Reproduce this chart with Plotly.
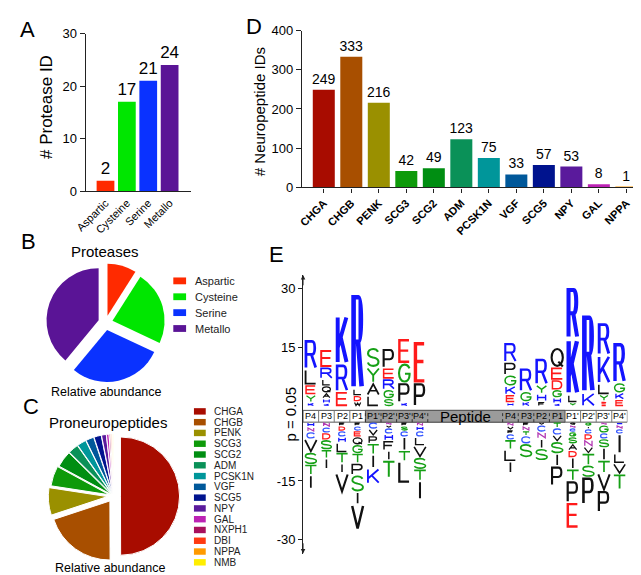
import re
import plotly.graph_objects as go

W, H = 641, 575
FONT = "Arial, Liberation Sans, sans-serif"

# ---------------- data ----------------
# A: protease IDs
protease_classes = ["Aspartic", "Cysteine", "Serine", "Metallo"]
protease_counts = [2, 17, 21, 24]
protease_colors = ["#FF2A00", "#00E600", "#0A32FF", "#5A1496"]

# B: protease relative abundance (%)
protease_abundance = [9, 23, 29, 39]

# C: proneuropeptide relative abundance (%)
propeptide_names = ["CHGA", "CHGB", "PENK", "SCG3", "SCG2", "ADM", "PCSK1N", "VGF",
                    "SCG5", "NPY", "GAL", "NXPH1", "DBI", "NPPA", "NMB"]
propeptide_abundance = [50, 20, 7.5, 5.5, 4.5, 2.8, 2.5, 2.2, 2.0, 1.3, 0.7, 0.4, 0.3, 0.2, 0.2]
propeptide_colors = ["#A80C00", "#A84F00", "#9A9000", "#0E9A0A", "#008E12", "#0A9158",
                     "#00969A", "#00589A", "#00138E", "#5A1A9C", "#BC22B4", "#A8105C",
                     "#FF3A10", "#FF9A00", "#FFEE00"]

# D: neuropeptide IDs per precursor
np_genes = ["CHGA", "CHGB", "PENK", "SCG3", "SCG2", "ADM", "PCSK1N", "VGF", "SCG5", "NPY", "GAL", "NPPA"]
np_counts = [249, 333, 216, 42, 49, 123, 75, 33, 57, 53, 8, 1]

# E: cleavage-site logo (letters listed from the baseline outwards)
site_labels = ["P4", "P3", "P2", "P1", "P1'", "P2'", "P3'", "P4'"]
up_letters = ["KYELR", "KHAQLRE", "ERK", "WDLR", "LAYS", "SGREP", "KPGE", "PE",
              "HEKGPR", "KGR", "FHYR", "KHGDEQ", "YLKR", "KR", "EDYLKR", "EKGR"]
up_heights = [[1, 2, 2.5, 4, 7.5], [0.75, 1.25, 1.5, 1.75, 1.75, 3, 4.5], [3.75, 7, 12.5],
              [1.25, 1.5, 1.75, 24], [2.75, 3.25, 4, 5], [2, 2.25, 2.75, 2.75, 5],
              [1, 5, 5, 6.25], [6, 10.5],
              [1, 2, 2.25, 2.75, 3.25, 5], [1.25, 2.5, 6], [1.25, 2, 2.25, 6.75],
              [0.75, 1.5, 2, 2.5, 3.25, 5], [1, 2, 14.25, 13], [3.5, 19.75],
              [0.6, 0.7, 1.75, 2.75, 7.25, 8.25], [1.75, 1.75, 2.5, 10.25]]
down_letters = ["HNCVSTI", "NCDSTI", "FDCHLTIV", "FCEQGTPSIV", "CVPTIK", "NVCHFIT", "FSCITL", "NHCLVSTI",
                "NVFCTLI", "FNTCS", "VCNIS", "TCVSIP", "QNCGSADITPE", "GICDNVTSP", "NGCSITVP", "HNCILVT"]
down_heights = [[1.25, 1.25, 1.75, 3.5, 3, 2.75, 3.5], [1.25, 1.5, 1.75, 2.5, 2.25, 2.75],
                [1, 1.25, 1.5, 1.5, 2.5, 2.75, 2.5, 5], [1, 1.25, 1.5, 2, 2.25, 2.5, 3, 4.25, 3.25, 6.5],
                [1.75, 1.75, 2, 2.75, 3.5, 4], [0.75, 0.75, 1.5, 1.75, 2.5, 2.5, 4.5],
                [1, 1.25, 1.5, 3.5, 2.75, 5.5], [1, 1.25, 1.5, 2.25, 3, 3, 3, 4.75],
                [1, 1, 1, 1.5, 2.5, 3, 3], [1, 1.25, 1.25, 2, 3.5], [0.75, 1.75, 1.75, 2.5, 3],
                [1.5, 1.75, 1.75, 3, 3.25, 5], [0.75, 0.75, 1, 1.25, 1.75, 1.75, 1.75, 3, 3, 5.5, 6.5],
                [1, 0.75, 1.25, 1.5, 1.75, 1.75, 3, 3, 7], [0.75, 2, 1.5, 2.25, 3.25, 3.25, 4.5, 5.5],
                [0.75, 1, 1.25, 5, 2.5, 2.75, 4]]

# ---------------- helpers ----------------
def px(x):
    return x / W


def py(y):
    return 1 - y / H


BLUE, RED, GREEN, PURPLE, BLACK = "#1414FF", "#FF1A1A", "#16A016", "#B43CB4", "#111111"
AA_COLOR = {"R": BLUE, "K": BLUE, "H": BLUE, "C": "#3355FF", "D": RED, "E": RED,
            "S": GREEN, "T": GREEN, "G": GREEN, "Y": GREEN, "N": PURPLE}

GLYPHS = {
    "R": "M0.04,0 L0.04,1 L0.6,1 C0.96,1 0.96,0.5 0.6,0.5 L0.04,0.5 M0.55,0.5 L0.96,0",
    "P": "M0.04,0 L0.04,1 L0.6,1 C0.96,1 0.96,0.45 0.6,0.45 L0.04,0.45",
    "K": "M0.04,0 L0.04,1 M0.96,1 L0.04,0.32 M0.36,0.56 L0.98,0",
    "L": "M0.04,1 L0.04,0 L0.92,0",
    "E": "M0.92,1 L0.04,1 L0.04,0 L0.94,0 M0.04,0.52 L0.85,0.52",
    "F": "M0.92,1 L0.04,1 L0.04,0 M0.04,0.52 L0.8,0.52",
    "Y": "M0,1 L0.5,0.48 L1,1 M0.5,0.48 L0.5,0",
    "Q": "M0.5,0 C0.776,0 1,0.224 1,0.5 C1,0.776 0.776,1 0.5,1 C0.224,1 0,0.776 0,0.5 "
         "C0,0.224 0.224,0 0.5,0 Z M0.6,0.25 L1,-0.04",
    "C": "M0.95,0.78 C0.86,0.93 0.7,1 0.5,1 C0.22,1 0.02,0.78 0.02,0.5 C0.02,0.22 0.22,0 0.5,0 "
         "C0.72,0 0.88,0.08 0.96,0.22",
    "G": "M0.95,0.78 C0.86,0.93 0.7,1 0.5,1 C0.22,1 0.02,0.78 0.02,0.5 C0.02,0.22 0.22,0 0.5,0 "
         "C0.75,0 0.96,0.15 0.96,0.4 L0.96,0.46 L0.55,0.46",
    "D": "M0.04,0 L0.04,1 L0.45,1 C1.08,1 1.08,0 0.45,0 Z",
    "S": "M0.93,0.83 C0.83,0.96 0.68,1 0.5,1 C0.22,1 0.04,0.88 0.04,0.73 C0.04,0.56 0.26,0.53 0.5,0.49 "
         "C0.78,0.45 0.97,0.38 0.97,0.24 C0.97,0.08 0.77,0 0.5,0 C0.3,0 0.1,0.05 0.03,0.2",
    "A": "M0.02,0 L0.5,1 L0.98,0 M0.2,0.36 L0.8,0.36",
    "W": "M0.01,1 L0.24,0 L0.5,0.8 L0.76,0 L0.99,1",
    "M": "M0.04,0 L0.04,1 L0.5,0.15 L0.96,1 L0.96,0",
    "N": "M0.04,0 L0.04,1 L0.96,0 L0.96,1",
    "H": "M0.04,0 L0.04,1 M0.96,0 L0.96,1 M0.04,0.52 L0.96,0.52",
    "T": "M0,1 L1,1 M0.5,1 L0.5,0",
    "I": "M0.5,0 L0.5,1",
    "V": "M0,1 L0.5,0 L1,1",
}

# logo axis geometry (pixels)
E_XPX = (289, 619)
E_XR = (-0.5, 20.3)
E_YPX = (267, 553)
E_YR = (-35.5, 35.5)
PPX = (E_XPX[1] - E_XPX[0]) / (E_XR[1] - E_XR[0])
PPY = (E_YPX[1] - E_YPX[0]) / (E_YR[1] - E_YR[0])
OFFSET = 2.0
col_x = [i if i < 8 else i + 4.8 for i in range(16)]


def glyph_shape(ch, xc, ylo, yhi):
    h_px = (yhi - ylo) * PPY
    w_px = min(13.5, 3 + 0.9 * h_px)
    lw = min(4.6, 0.9 + 0.06 * h_px)
    ins_y = (lw / 2 + 0.35) / PPY
    ins_x = (lw / 2) / PPX
    hw = w_px / 2 / PPX - ins_x
    y0, y1 = ylo + ins_y, yhi - ins_y
    if y1 <= y0:
        y0 = y1 = (ylo + yhi) / 2

    def rep(m):
        a, b = float(m.group(1)), float(m.group(2))
        return f"{xc - hw + 2 * hw * a:.4f},{y0 + (y1 - y0) * b:.4f}"

    path = re.sub(r"(-?[\d.]+),(-?[\d.]+)", rep, GLYPHS[ch])
    return dict(type="path", path=path, xref="x3", yref="y3",
                line=dict(color=AA_COLOR.get(ch, BLACK), width=lw),
                fillcolor="rgba(0,0,0,0)", layer="above")


fig = go.Figure()

# A
fig.add_trace(go.Bar(x=protease_classes, y=protease_counts, marker_color=protease_colors,
                     marker_line_width=0, width=0.83, text=protease_counts, textposition="outside",
                     textfont=dict(size=17, color="black"), constraintext="none",
                     cliponaxis=False, xaxis="x", yaxis="y", showlegend=False))

# D
gene_color = dict(zip(propeptide_names, propeptide_colors))
fig.add_trace(go.Bar(x=np_genes, y=np_counts, marker_color=[gene_color[g] for g in np_genes],
                     marker_line_width=0, width=0.8, text=np_counts, textposition="outside",
                     textfont=dict(size=14, color="black"), constraintext="none",
                     cliponaxis=False, xaxis="x2", yaxis="y2", showlegend=False))

# B
fig.add_trace(go.Pie(labels=protease_classes, values=protease_abundance,
                     marker=dict(colors=protease_colors), sort=False, direction="clockwise",
                     rotation=0, pull=0.14, textinfo="none", showlegend=False,
                     domain=dict(x=[px(27), px(149)], y=[py(377), py(255)])))

# C
c_pull = [0.12, 0.1, 0.1, 0.07] + [0.05] * (len(propeptide_names) - 4)
fig.add_trace(go.Pie(labels=propeptide_names, values=propeptide_abundance,
                     marker=dict(colors=propeptide_colors, line=dict(color="white", width=1)),
                     sort=False, direction="clockwise", rotation=0, pull=c_pull,
                     textinfo="none", showlegend=False,
                     domain=dict(x=[px(28), px(164)], y=[py(562), py(426)])))

# E: invisible anchor trace so the logo axes exist
fig.add_trace(go.Scatter(x=[col_x[0], col_x[-1]], y=[0, 0], mode="markers",
                         marker=dict(opacity=0), xaxis="x3", yaxis="y3",
                         showlegend=False, hoverinfo="skip"))

shapes = []
annotations = []

# site band
shapes.append(dict(type="rect", xref="x3", yref="y3", x0=-0.5, x1=20.3, y0=-2.0, y1=1.0,
                   line=dict(color="#555555", width=1), fillcolor="white", layer="below"))
shapes.append(dict(type="rect", xref="x3", yref="y3", x0=3.5, x1=col_x[11] + 0.5, y0=-2.0, y1=1.0,
                   line=dict(color="#555555", width=1), fillcolor="#9B9B9B", layer="below"))
for i in range(16):
    if i in (0, 8, 12):
        continue
    xb = col_x[i] - 0.5
    dashed = 4 <= i <= 11
    shapes.append(dict(type="line", xref="x3", yref="y3", x0=xb, x1=xb, y0=-2.0, y1=1.0,
                       line=dict(color="#333333" if dashed else "#777777", width=1,
                                 dash="dot" if dashed else "solid"), layer="below"))
for xb in (7.5, col_x[8] - 0.5):
    shapes.append(dict(type="line", xref="x3", yref="y3", x0=xb, x1=xb, y0=-2.0, y1=1.0,
                       line=dict(color="#333333", width=1, dash="dot"), layer="below"))
for i in range(16):
    annotations.append(dict(x=col_x[i], y=-0.5, xref="x3", yref="y3", text=site_labels[i % 8],
                            showarrow=False, font=dict(size=9, color="black")))
annotations.append(dict(x=(col_x[7] + col_x[8]) / 2, y=-0.5, xref="x3", yref="y3", text="Peptide",
                        showarrow=False, font=dict(size=15, color="black")))

# logo letters
for i in range(16):
    base = OFFSET
    for ch, h in zip(up_letters[i], up_heights[i]):
        shapes.append(glyph_shape(ch, col_x[i], base, base + h))
        base += h
    base = -OFFSET
    for ch, h in zip(down_letters[i], down_heights[i]):
        shapes.append(glyph_shape(ch, col_x[i], base - h, base))
        base -= h

# axis arrows
for tip, tail in ((E_YR[1], E_YR[1] - 3), (E_YR[0], E_YR[0] + 3)):
    annotations.append(dict(x=-0.5, y=tip, ax=-0.5, ay=tail, xref="x3", yref="y3",
                            axref="x3", ayref="y3", showarrow=True, arrowhead=2,
                            arrowsize=0.9, arrowwidth=1, arrowcolor="#222222", text=""))

# legends B and C
for i, (name, col) in enumerate(zip(protease_classes, protease_colors)):
    yc = 273 + 16.3 * i
    shapes.append(dict(type="rect", xref="paper", yref="paper", x0=px(157), x1=px(170),
                       y0=py(yc + 3.5), y1=py(yc - 3.5), fillcolor=col, line_width=0))
    annotations.append(dict(x=px(177), y=py(yc), xref="paper", yref="paper", text=name,
                            xanchor="left", yanchor="middle", showarrow=False,
                            font=dict(size=11, color="#222222")))
for i, (name, col) in enumerate(zip(propeptide_names, propeptide_colors)):
    yc = 407 + 11.07 * i
    shapes.append(dict(type="rect", xref="paper", yref="paper", x0=px(178), x1=px(190),
                       y0=py(yc + 3.3), y1=py(yc - 3.3), fillcolor=col, line_width=0))
    annotations.append(dict(x=px(196), y=py(yc), xref="paper", yref="paper", text=name,
                            xanchor="left", yanchor="middle", showarrow=False,
                            font=dict(size=10, color="#222222")))

# texts
def label(x, y, text, size, angle=0):
    annotations.append(dict(x=px(x), y=py(y), xref="paper", yref="paper", text=text,
                            showarrow=False, textangle=angle, xanchor="center",
                            yanchor="middle", font=dict(size=size, color="black")))


for letter, x, y in (("A", 9, 15), ("B", 10, 233), ("C", 12, 402), ("D", 239, 12), ("E", 262, 246)):
    label(x, y, letter, 22)
label(28, 95, "# Protease ID", 17, -90)
label(245, 99, "# Neuropeptide IDs", 15, -90)
label(276, 410, "p = 0.05", 15, -90)
label(88, 243, "Proteases", 15)
label(89, 387, "Relative abundance", 12.5)
label(91, 418, "Proneuropeptides", 15)
label(93, 568, "Relative abundance", 12.5)

axis_common = dict(showline=True, linecolor="#222222", linewidth=1.3, showgrid=False,
                   zeroline=False, tickfont=dict(size=13, color="black"))

fig.update_layout(
    width=W, height=H, margin=dict(l=0, r=0, t=0, b=0),
    paper_bgcolor="white", plot_bgcolor="white",
    font=dict(family=FONT, color="black"),
    showlegend=False,
    xaxis=dict(axis_common, domain=[px(68), px(175)], range=[-0.92, 4.0], anchor="y",
               tickangle=-45, ticks="", tickfont=dict(size=11, color="black")),
    yaxis=dict(axis_common, domain=[py(181), py(19)], range=[0, 30], anchor="x",
               tickvals=[0, 10, 20, 30], ticks="outside", ticklen=5, tickcolor="#222222"),
    xaxis2=dict(axis_common, domain=[px(288), px(637)], range=[-0.79, 11.68], anchor="y2",
                tickangle=-45, ticks="outside", ticklen=4, tickcolor="#222222",
                tickfont=dict(size=11, color="black", weight="bold")),
    yaxis2=dict(axis_common, domain=[py(177), py(16)], range=[0, 400], anchor="x2",
                dtick=100, ticks="outside", ticklen=5, tickcolor="#222222"),
    xaxis3=dict(domain=[px(E_XPX[0]), px(E_XPX[1])], range=list(E_XR), visible=False,
                anchor="y3", fixedrange=True),
    yaxis3=dict(axis_common, domain=[py(E_YPX[1]), py(E_YPX[0])], range=list(E_YR), anchor="x3",
                tickvals=[32, 17, -17, -32], ticktext=["30", "15", "-15", "-30"],
                ticks="outside", ticklen=4, tickcolor="#222222", linewidth=1),
    shapes=shapes,
    annotations=annotations,
)

fig.write_html("out.html")
